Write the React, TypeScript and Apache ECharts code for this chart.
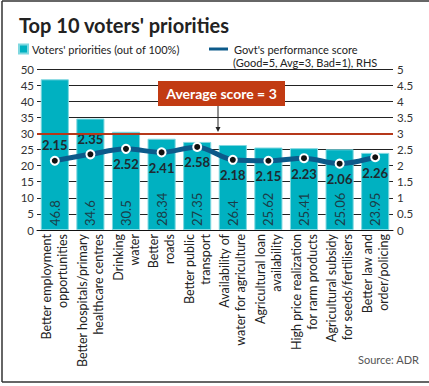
import React, { useEffect, useRef } from "react";
import * as echarts from "echarts";

const categories = [
  "Better employment\nopportunities",
  "Better hospitals/primary\nhealthcare centres",
  "Drinking\nwater",
  "Better\nroads",
  "Better public\ntransport",
  "Availability of\nwater for agriculture",
  "Agricultural loan\navailability",
  "High price realization\nfor rarm products",
  "Agricultural subsidy\nfor seeds/fertilisers",
  "Better law and\norder/policing",
];
const priorities = [46.8, 34.6, 30.5, 28.34, 27.35, 26.4, 25.62, 25.41, 25.06, 23.95];
const scores = [2.15, 2.35, 2.52, 2.41, 2.58, 2.18, 2.15, 2.23, 2.06, 2.26];
const scoreLabelPos = ["top", "top", "bottom", "bottom", "bottom", "bottom", "bottom", "bottom", "bottom", "bottom"];
const averageScore = 3;

const FONT = "Lato, 'Noto Sans', sans-serif";
const TEAL = "#00b1c1";
const BLUE = "#0c5a8a";
const RED = "#c23b13";

export default function App() {
  const ref = useRef<HTMLDivElement>(null);
  useEffect(() => {
    const chart = echarts.init(ref.current!, null, { renderer: "svg" });
    chart.setOption({
      animation: false,
      backgroundColor: "#fff",
      textStyle: { fontFamily: FONT },
      grid: { left: 37, right: 36, top: 69, bottom: 156 },
      legend: [
        {
          left: 18,
          top: 43,
          padding: 0,
          data: [{ name: "Voters' priorities (out of 100%)", icon: "rect", itemStyle: { color: TEAL } }],
          itemWidth: 9,
          itemHeight: 9,
          itemGap: 5,
          textStyle: { fontSize: 11, lineHeight: 12, color: "#222", fontFamily: FONT, padding: [0, 0, 0, -1] },
          selectedMode: false,
        },
        {
          left: 207,
          top: 43,
          padding: 0,
          data: [{ name: "Govt's performance score", icon: "roundRect", itemStyle: { color: BLUE } }],
          itemWidth: 21,
          itemHeight: 5,
          textStyle: { fontSize: 11, lineHeight: 12, color: "#222", fontFamily: FONT },
          selectedMode: false,
        },
      ],
      xAxis: {
        type: "category",
        data: categories,
        axisLine: { lineStyle: { color: "#111", width: 1 } },
        axisTick: { show: false },
        axisLabel: {
          rotate: 90,
          interval: 0,
          margin: 4,
          fontSize: 12.5,
          color: "#222",
          lineHeight: 16,
          fontFamily: FONT,
        },
      },
      yAxis: [
        {
          type: "value",
          min: 0,
          max: 50,
          interval: 5,
          axisLine: { show: false },
          axisTick: { show: false },
          axisLabel: { margin: 3, fontSize: 11.5, color: "#333", fontFamily: FONT },
          splitLine: { lineStyle: { color: "#222", width: 1 } },
        },
        {
          type: "value",
          min: 0,
          max: 5,
          interval: 0.5,
          axisLine: { show: false },
          axisTick: { show: false },
          axisLabel: { margin: 4, fontSize: 11.5, color: "#333", fontFamily: FONT },
          splitLine: { show: false },
        },
      ],
      series: [
        {
          name: "avg",
          type: "line",
          yAxisIndex: 1,
          data: [],
          z: 1,
          silent: true,
          markLine: {
            silent: true,
            symbol: "none",
            label: { show: false },
            lineStyle: { color: "#b5381a", width: 2, type: "solid" },
            data: [{ yAxis: averageScore }],
          },
        },
        {
          name: "Voters' priorities (out of 100%)",
          type: "bar",
          data: priorities,
          z: 3,
          barCategoryGap: "21%",
          itemStyle: { color: TEAL, borderColor: "#7fd8e0", borderWidth: 1 },
          label: {
            show: true,
            position: "insideBottom",
            rotate: 90,
            align: "left",
            verticalAlign: "middle",
            distance: 4,
            fontSize: 13,
            color: "#1b3d48",
            fontFamily: FONT,
          },
        },
        {
          name: "Govt's performance score",
          type: "line",
          yAxisIndex: 1,
          z: 4,
          smooth: 0.3,
          data: scores.map((v, i) => ({
            value: v,
            label: { position: scoreLabelPos[i] },
          })),
          symbol: "circle",
          symbolSize: 8,
          itemStyle: { color: "#111", borderColor: "#fff", borderWidth: 2 },
          lineStyle: { color: BLUE, width: 5 },
          label: {
            show: true,
            fontSize: 13,
            fontWeight: "bold",
            color: "#1f2a30",
            distance: 4,
            fontFamily: FONT,
          },
        },
      ],
      graphic: [
        { type: "line", z: 200, shape: { x1: 2, y1: 1, x2: 429, y2: 1 }, style: { stroke: "#333", lineWidth: 1.5 } },
        { type: "line", z: 200, shape: { x1: 2, y1: 1, x2: 2, y2: 382 }, style: { stroke: "#333", lineWidth: 1.5 } },
        { type: "line", z: 200, shape: { x1: 2, y1: 382, x2: 429, y2: 382 }, style: { stroke: "#333", lineWidth: 1.5 } },
        {
          type: "text",
          left: 19,
          top: 15,
          style: { text: "Top 10 voters' priorities", fontSize: 20, fontWeight: "bold", fill: "#222", fontFamily: FONT },
        },
        {
          type: "text",
          left: 233,
          top: 56,
          z: 100,
          style: { text: "(Good=5, Avg=3, Bad=1), RHS", fontSize: 11, lineHeight: 12, fill: "#222", fontFamily: FONT },
        },
        { type: "rect", z: 100, shape: { x: 158, y: 81, width: 127, height: 25 }, style: { fill: RED } },
        {
          type: "text",
          z: 101,
          x: 221.5,
          y: 93.5,
          style: {
            text: "Average score = 3",
            fontSize: 14,
            fontWeight: "bold",
            fill: "#fff",
            align: "center",
            verticalAlign: "middle",
            fontFamily: FONT,
          },
        },
        { type: "line", z: 100, shape: { x1: 218, y1: 106, x2: 218, y2: 128 }, style: { stroke: "#222", lineWidth: 1 } },
        { type: "polygon", z: 100, shape: { points: [[215.5, 127], [220.5, 127], [218, 132]] }, style: { fill: "#222" } },
        {
          type: "text",
          left: 358,
          top: 354,
          style: { text: "Source: ADR", fontSize: 11, fill: "#555", fontFamily: FONT },
        },
      ],
    });
    return () => chart.dispose();
  }, []);
  return <div ref={ref} style={{ position: "fixed", left: 0, top: 0, width: 429, height: 386 }} />;
}
